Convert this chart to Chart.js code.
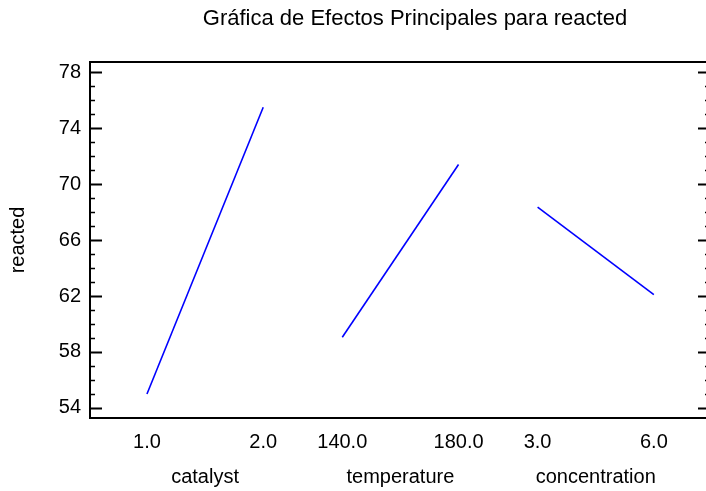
<!DOCTYPE html>
<html>
<head>
<meta charset="utf-8">
<script src="https://cdn.jsdelivr.net/npm/chart.js@4/dist/chart.umd.min.js"></script>
<style>
  body { margin: 0; background: #fff; }
  canvas { display: block; }
</style>
</head>
<body>
<canvas id="myChart" width="706" height="491"></canvas>
<script>
// data
var chartTitle = 'Gráfica de Efectos Principales para reacted';
var yTitle = 'reacted';
var factors = ['catalyst', 'temperature', 'concentration'];
var levelLabels = [['1.0', '2.0'], ['140.0', '180.0'], ['3.0', '6.0']];
var catalystMeans = [55.0, 75.5];
var temperatureMeans = [59.05, 71.4];
var concentrationMeans = [68.35, 62.1];
var yTicks = [54, 58, 62, 66, 70, 74, 78];

var allMeans = [catalystMeans, temperatureMeans, concentrationMeans];
var segGap = 1.68; // distance between the start of each factor block (x units)
var FONT = "'Liberation Sans', Arial, sans-serif";

function levelPos() {
  var out = [];
  factors.forEach(function (f, s) {
    levelLabels[s].forEach(function (l, i) { out.push(s * segGap + i); });
  });
  return out;
}
var flatLabels = [].concat.apply([], levelLabels);

var datasets = factors.map(function (f, s) {
  return {
    label: f,
    data: allMeans[s].map(function (v, i) { return { x: s * segGap + i, y: v }; }),
    borderColor: '#0000ff',
    borderWidth: 1.6,
    pointRadius: 0,
    tension: 0,
    fill: false
  };
});

// frame (right side runs just past the canvas edge), inward ticks, and the title
var framePlugin = {
  id: 'frame',
  afterDraw: function (chart) {
    var ctx = chart.ctx, a = chart.chartArea, ys = chart.scales.y;
    var right = a.right + 5;
    ctx.save();
    ctx.strokeStyle = '#000';
    ctx.lineWidth = 2;
    ctx.strokeRect(a.left, a.top, right - a.left, a.bottom - a.top);
    for (var v = yTicks[0]; v <= yTicks[yTicks.length - 1]; v++) {
      var py = Math.round(ys.getPixelForValue(v)) + 0.5;
      var major = yTicks.indexOf(v) >= 0;
      var len = major ? 12 : 5;
      ctx.lineWidth = major ? 2 : 1.5;
      ctx.beginPath();
      ctx.moveTo(a.left, py); ctx.lineTo(a.left + len, py);
      ctx.moveTo(right, py); ctx.lineTo(right - len, py);
      ctx.stroke();
    }
    ctx.fillStyle = '#000';
    ctx.font = '22px ' + FONT;
    ctx.textAlign = 'center';
    ctx.textBaseline = 'middle';
    ctx.fillText(chartTitle, 415, 19);
    ctx.restore();
  }
};

var chart = new Chart(document.getElementById('myChart'), {
  type: 'line',
  data: { datasets: datasets },
  options: {
    responsive: false,
    animation: false,
    layout: { padding: { left: 0, right: 1, top: 62, bottom: 3 } },
    plugins: {
      legend: { display: false },
      title: { display: false },
      tooltip: { enabled: false }
    },
    scales: {
      x: {
        type: 'linear',
        position: 'bottom',
        min: -0.49,
        max: 4.80,
        grid: { display: false, drawTicks: false },
        border: { display: false },
        afterBuildTicks: function (scale) {
          scale.ticks = levelPos().map(function (v) { return { value: v }; });
        },
        afterFit: function (scale) { scale.height = 35; },
        ticks: {
          autoSkip: false,
          maxRotation: 0,
          padding: 12,
          color: '#000',
          font: { size: 20, family: FONT },
          callback: function (value, index) { return flatLabels[index]; }
        }
      },
      xf: {
        type: 'linear',
        position: 'bottom',
        min: -0.49,
        max: 4.80,
        grid: { display: false, drawTicks: false },
        border: { display: false },
        afterBuildTicks: function (scale) {
          scale.ticks = factors.map(function (f, s) { return { value: s * segGap + 0.5 }; });
        },
        afterFit: function (scale) { scale.height = 35; },
        ticks: {
          autoSkip: false,
          maxRotation: 0,
          padding: 12,
          color: '#000',
          font: { size: 20, family: FONT },
          callback: function (value, index) { return factors[index]; }
        }
      },
      y: {
        min: 53.28,
        max: 78.73,
        grid: { display: false, drawTicks: false },
        border: { display: false },
        afterBuildTicks: function (scale) {
          scale.ticks = yTicks.map(function (v) { return { value: v }; });
        },
        afterFit: function (scale) { scale.width = 90; },
        ticks: {
          padding: 9,
          color: '#000',
          font: { size: 20, family: FONT }
        },
        title: {
          display: true,
          text: yTitle,
          color: '#000',
          padding: { top: 6, bottom: 0 },
          font: { size: 20, family: FONT }
        }
      }
    }
  },
  plugins: [framePlugin]
});
</script>
</body>
</html>
